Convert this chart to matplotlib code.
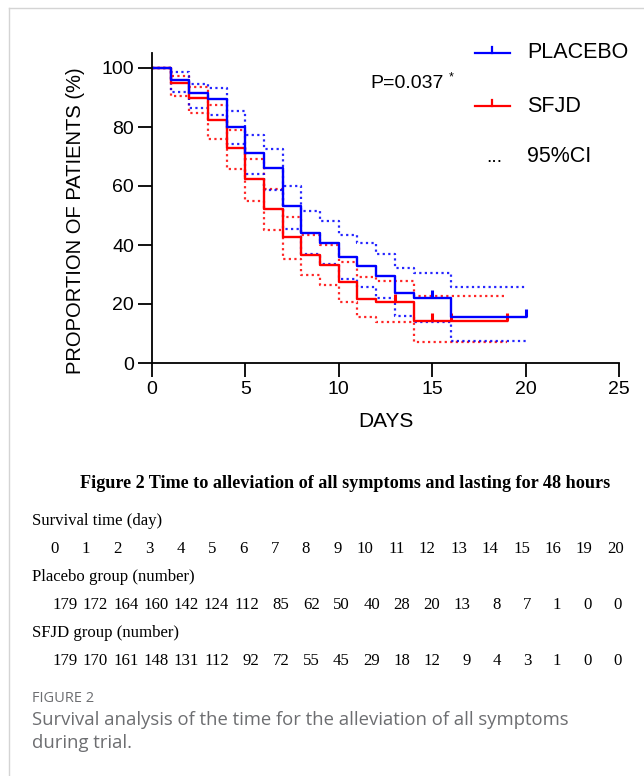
import numpy as np
import matplotlib
matplotlib.use("Agg")
import matplotlib.pyplot as plt
from matplotlib.lines import Line2D

# Kaplan-Meier steps (day, % of patients)
plc_t = [0, 1, 2, 3, 4, 5, 6, 7, 8, 9, 10, 11, 12, 13, 14, 16, 20]
plc_s = [100, 96.1, 91.5, 89.4, 80.1, 71.1, 66.2, 53.2, 44.2, 40.6, 35.8, 33.0, 29.5, 23.6, 21.9, 15.5, 15.5]
plc_hi = [100, 98.6, 94.7, 93.2, 85.5, 77.3, 72.6, 60.1, 51.5, 48.0, 43.4, 40.6, 37.0, 32.1, 30.4, 25.9, 25.9]
plc_lo = [100, 91.8, 86.3, 84.0, 74.2, 64.0, 58.7, 45.3, 37.0, 33.5, 28.4, 25.7, 22.2, 16.1, 14.0, 7.5, 7.5]
plc_cens = [15, 20]

sfjd_t = [0, 1, 2, 3, 4, 5, 6, 7, 8, 9, 10, 11, 12, 14, 19]
sfjd_s = [100, 95.0, 89.7, 82.4, 73.0, 62.3, 52.2, 42.6, 36.7, 33.2, 27.4, 21.7, 20.8, 14.1, 14.1]
sfjd_hi = [100, 97.3, 93.7, 87.5, 79.1, 69.0, 58.9, 49.6, 43.5, 40.0, 34.4, 29.0, 27.9, 22.7, 22.7]
sfjd_lo = [100, 90.5, 84.6, 75.9, 65.9, 54.9, 45.0, 35.1, 29.8, 26.4, 20.8, 15.7, 14.0, 7.2, 7.2]
sfjd_cens = [13, 15, 16, 19]

# numbers at risk table
risk_days = [0, 1, 2, 3, 4, 5, 6, 7, 8, 9, 10, 11, 12, 13, 14, 15, 16, 19, 20]
plc_risk = [179, 172, 164, 160, 142, 124, 112, 85, 62, 50, 40, 28, 20, 13, 8, 7, 1, 0, 0]
sfjd_risk = [179, 170, 161, 148, 131, 112, 92, 72, 55, 45, 29, 18, 12, 9, 4, 3, 1, 0, 0]

W, H = 644, 776
plt.rcParams['font.family'] = ['Liberation Sans', 'DejaVu Sans']

def fx(x):
    return x / W

def fy(y):
    return 1 - y / H

def step_at(t, s, c):
    i = np.searchsorted(t, c, side='right') - 1
    return s[i]

fig = plt.figure(figsize=(W / 100, H / 100), dpi=100)
ax = fig.add_axes([fx(152), fy(363), fx(619) - fx(152), fy(53.25) - fy(363)])

BLUE = '#0000ff'
RED = '#ff0000'
dot = (0, (1, 1.5))

# CI bands (dotted)
for t, lo, hi, c in [(sfjd_t, sfjd_lo, sfjd_hi, RED), (plc_t, plc_lo, plc_hi, BLUE)]:
    ax.step(t, hi, where='post', color=c, lw=1.6, ls=dot, alpha=0.85)
    ax.step(t, lo, where='post', color=c, lw=1.6, ls=dot, alpha=0.85)

# survival curves
tick_mk = [(0, 0), (0, 1)]
for t, s, cens, c in [(sfjd_t, sfjd_s, sfjd_cens, RED), (plc_t, plc_s, plc_cens, BLUE)]:
    ax.step(t, s, where='post', color=c, lw=1.7)
    cy = [step_at(t, s, d) for d in cens]
    ax.plot(cens, cy, ls='none', marker=tick_mk, ms=11, mec=c, mew=2.2)

ax.set_xlim(0, 25)
ax.set_ylim(0, 105)
ax.set_xticks([0, 5, 10, 15, 20, 25])
ax.set_yticks([0, 20, 40, 60, 80, 100])
for sp in ['top', 'right']:
    ax.spines[sp].set_visible(False)
for sp in ['left', 'bottom']:
    ax.spines[sp].set_linewidth(1.3)
ax.tick_params(direction='out', length=10, width=1.3, labelsize=14, pad=3)

fig.text(fx(76), fy(221), 'PROPORTION OF PATIENTS (%)', rotation=90,
         ha='center', va='center', fontsize=14.5)
fig.text(fx(386), fy(422), 'DAYS', ha='center', va='center', fontsize=15)

# p value
fig.text(fx(370), fy(84), 'P=0.037', ha='left', va='center', fontsize=14)
fig.text(fx(451), fy(77), '*', ha='center', va='center', fontsize=9)

# legend
for yy, c, lab in [(53, BLUE, 'PLACEBO'), (106, RED, 'SFJD')]:
    fig.add_artist(Line2D([fx(475), fx(510)], [fy(yy), fy(yy)], color=c, lw=1.6,
                          transform=fig.transFigure))
    fig.add_artist(Line2D([fx(492), fx(492)], [fy(yy), fy(yy - 6)], color=c, lw=1.6,
                          transform=fig.transFigure))
    fig.text(fx(527), fy(yy), lab, ha='left', va='center', fontsize=15.5)
fig.text(fx(494), fy(157), '...', ha='center', va='center', fontsize=14)
fig.text(fx(527), fy(157), '95%CI', ha='left', va='center', fontsize=15.5)

# table below
serif = ['Liberation Serif', 'DejaVu Serif']
fig.text(fx(345), fy(484), 'Figure 2 Time to alleviation of all symptoms and lasting for 48 hours',
         ha='center', va='center', fontsize=13.1, fontweight='bold', family=serif)
rows = [(521, 'Survival time (day)', 549, risk_days, 59, 31.4),
        (577, 'Placebo group (number)', 605, plc_risk, 78, 30.2),
        (633, 'SFJD group (number)', 661, sfjd_risk, 78, 30.2)]
for ty, title, ny, vals, x0, dx in rows:
    fig.text(fx(32), fy(ty), title, ha='left', va='center', fontsize=12.1, family=serif)
    for i, v in enumerate(vals):
        fig.text(fx(x0 + i * dx), fy(ny), str(v), ha='right', va='center',
                 fontsize=12.1, family=serif)

grey = '#6d6e71'
sans = ['Open Sans', 'DejaVu Sans']
fig.text(fx(32), fy(699), 'FIGURE 2', ha='left', va='center', fontsize=10.5,
         color=grey, family=sans)
fig.text(fx(32), fy(720), 'Survival analysis of the time for the alleviation of all symptoms',
         ha='left', va='center', fontsize=13.3, color=grey, family=sans)
fig.text(fx(32), fy(743), 'during trial.', ha='left', va='center', fontsize=13.3,
         color=grey, family=sans)

# frame edges of the panel
fig.add_artist(Line2D([fx(9), fx(9)], [fy(8), 0], color='#d4d4d4', lw=1,
                      transform=fig.transFigure))
fig.add_artist(Line2D([fx(9), 1], [fy(8), fy(8)], color='#d4d4d4', lw=1,
                      transform=fig.transFigure))

fig.savefig('out.png', dpi=100)
